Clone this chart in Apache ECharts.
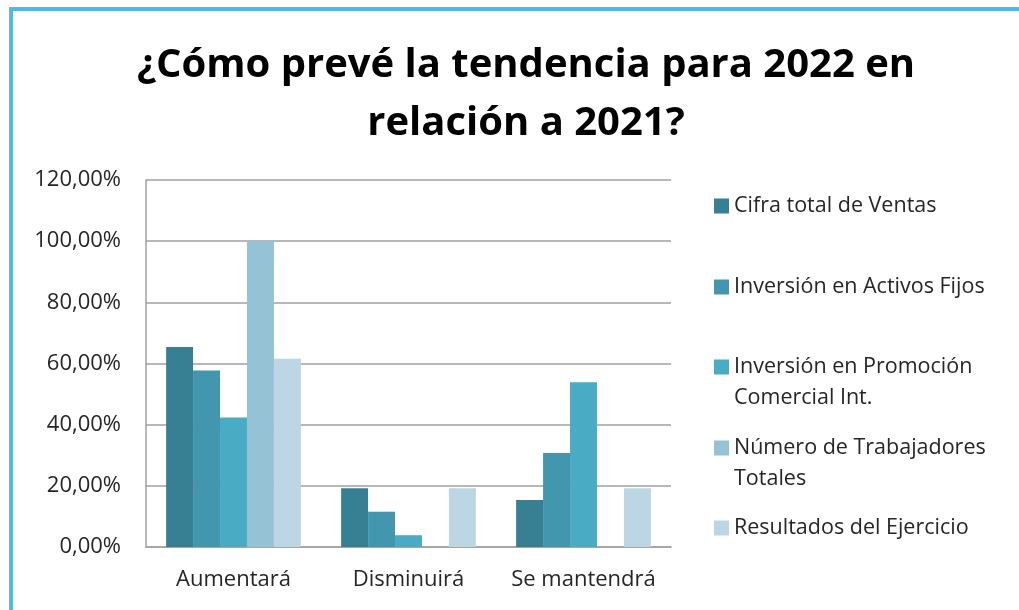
<!DOCTYPE html>
<html>
<head>
<meta charset="utf-8">
<title>Tendencia 2022</title>
<script src="https://cdn.jsdelivr.net/npm/echarts@6/dist/echarts.min.js"></script>
<style>
  body { margin: 0; padding: 0; background: #fff; }
  #chart { width: 1019px; height: 610px; }
  #frame {
    position: absolute; left: 10px; top: 8px; width: 1019px; height: 610px;
    border-left: 3px solid #3fc0ee; border-top: 3px solid #3fc0ee;
    box-shadow: -1px -1px 0 #9aa5aa; pointer-events: none;
  }
</style>
</head>
<body>
<div id="chart"></div>
<div id="frame"></div>
<script>
var categories = ['Aumentará', 'Disminuirá', 'Se mantendrá'];
var seriesNames = [
  'Cifra total de Ventas',
  'Inversión en Activos Fijos',
  'Inversión en Promoción Comercial Int.',
  'Número de Trabajadores Totales',
  'Resultados del Ejercicio'
];
// % por categoría (Aumentará, Disminuirá, Se mantendrá)
var ventas = [65.38, 19.23, 15.38];
var activos = [57.69, 11.54, 30.77];
var promocion = [42.31, 3.85, 53.85];
var trabajadores = [100, 0, 0];
var resultados = [61.54, 19.23, 19.23];
var yTicks = [0, 20, 40, 60, 80, 100, 120];

var values = [ventas, activos, promocion, trabajadores, resultados];
var colors = ['#377f93', '#4296ae', '#4aabc5', '#93c3d5', '#bcd7e3'];
// legend text split in lines as in the original (leading blank line keeps
// the first line level with the icon)
var legendLines = {
  'Inversión en Promoción Comercial Int.': '\nInversión en Promoción\nComercial Int.',
  'Número de Trabajadores Totales': '\nNúmero de Trabajadores\nTotales'
};
var legendCenters = [206, 287, 367, 448, 528];
var lineH = 31;

var font = 'Open Sans';

var legends = seriesNames.map(function (name, i) {
  var multi = !!legendLines[name];
  var boxH = multi ? lineH * 3 : lineH;
  return {
    data: [name],
    left: 714,
    top: legendCenters[i] - boxH / 2,
    padding: 0,
    itemWidth: 15,
    itemHeight: 15,
    icon: 'rect',
    selectedMode: false,
    formatter: function (n) { return legendLines[n] || n; },
    textStyle: {
      fontFamily: font,
      fontSize: 21.5,
      color: '#262626',
      lineHeight: lineH
    }
  };
});

var chart = echarts.init(document.getElementById('chart'));
chart.setOption({
  backgroundColor: '#fff',
  animation: false,
  color: colors,
  title: {
    text: '¿Cómo prevé la tendencia para 2022 en\nrelación a 2021?',
    left: 521,
    textAlign: 'center',
    top: 32,
    textStyle: {
      fontFamily: font,
      fontWeight: 'bold',
      fontSize: 40,
      lineHeight: 58,
      color: '#000'
    }
  },
  legend: legends,
  grid: { left: 146, right: 348, top: 180, bottom: 63 },
  xAxis: {
    type: 'category',
    data: categories,
    axisTick: { show: false },
    axisLine: { lineStyle: { color: '#a0a0a0', width: 1.5 } },
    axisLabel: {
      interval: 0,
      hideOverlap: false,
      fontFamily: font, fontSize: 22, color: '#262626', margin: 22
    }
  },
  yAxis: {
    type: 'value',
    min: yTicks[0],
    max: yTicks[yTicks.length - 1],
    interval: yTicks[1] - yTicks[0],
    axisLine: { show: true, lineStyle: { color: '#a0a0a0', width: 1.5 } },
    axisTick: { show: false },
    splitLine: { lineStyle: { color: '#a0a0a0', width: 1.5 } },
    axisLabel: {
      fontFamily: font, fontSize: 22, color: '#262626', margin: 25,
      formatter: function (v) { return v.toFixed(2).replace('.', ',') + '%'; }
    }
  },
  series: values.map(function (arr, i) {
    return {
      name: seriesNames[i],
      type: 'bar',
      data: arr,
      barGap: '0%',
      barCategoryGap: '23%'
    };
  })
});
</script>
</body>
</html>
